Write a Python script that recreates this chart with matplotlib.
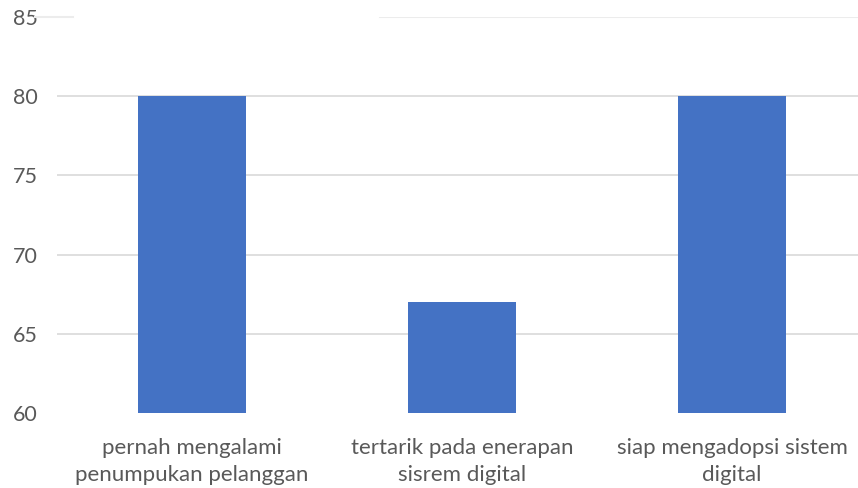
import matplotlib.pyplot as plt

kategori = ["pernah mengalami\npenumpukan pelanggan",
            "tertarik pada enerapan\nsisrem digital",
            "siap mengadopsi sistem\ndigital"]
nilai = [80, 67, 80]
yticks = [60, 65, 70, 75, 80, 85]

plt.rcParams['font.family'] = ['Lato', 'DejaVu Sans']

fig = plt.figure(figsize=(8.58, 4.88), dpi=100)
ax = fig.add_axes([57 / 858, 75 / 488, 810 / 858, 396 / 488])

ax.bar(range(len(kategori)), nilai, width=0.4, color='#4472C4', zorder=3)

ax.set_xlim(-0.5, 2.5)
ax.set_ylim(60, 85)
ax.set_yticks(yticks)
ax.set_xticks(range(len(kategori)))
ax.set_xticklabels(kategori, linespacing=1.45)

# garis bantu
for y in yticks[1:-1]:
    ax.axhline(y, color='#d9d9d9', linewidth=1.2, zorder=1)
ax.plot([-0.58, -0.44], [85, 85], color='#ececec', linewidth=1.5, clip_on=False)
ax.axhline(85, xmin=0.399, xmax=1, color='#ececec', linewidth=1.5)

for s in ax.spines.values():
    s.set_visible(False)
ax.tick_params(length=0, colors='#595959')
ax.tick_params(axis='x', pad=18, labelsize=16)
ax.tick_params(axis='y', pad=32, labelsize=15.5)
for t in ax.get_yticklabels():
    t.set_horizontalalignment('left')

plt.savefig('out.png', dpi=100)
